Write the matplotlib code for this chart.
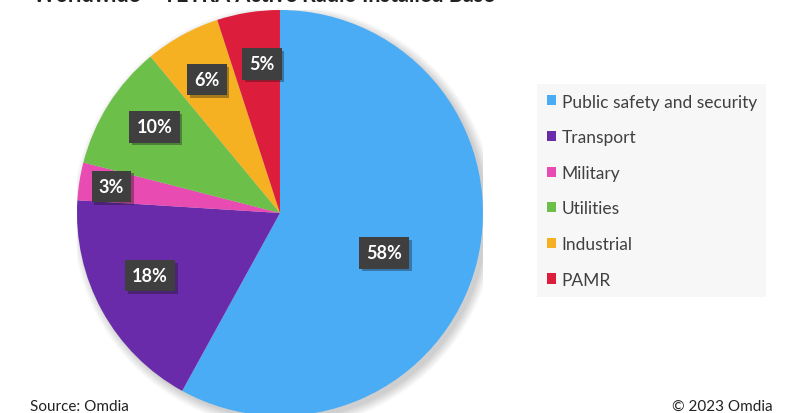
import matplotlib.pyplot as plt
import matplotlib.patheffects as pe
from matplotlib.patches import Circle
import numpy as np

plt.rcParams['font.family'] = ['Lato', 'DejaVu Sans']

segments = ['Public safety and security', 'Transport', 'Military',
            'Utilities', 'Industrial', 'PAMR']
shares = [58, 18, 3, 10, 6, 5]
colors = ['#4BACF6', '#6A2BAA', '#E84BB1', '#6CC04A', '#F5B122', '#DC1E3C']
# label placement: radius (fraction of pie) and small angle nudge (deg)
label_r = [0.55, 0.71, 0.84, 0.75, 0.75, 0.74]
label_da = [-6.5, -3, 0, -2, 0, -2]

fig = plt.figure(figsize=(7.88, 4.14), dpi=100)
ax = fig.add_axes([0.0977, -0.00725, 0.5152, 0.9807])

# soft drop shadow behind the pie
for k in range(8):
    ax.add_patch(Circle((0.02, -0.02), 1.0 + 0.006 * k, fc='black',
                        alpha=0.025, ec='none', zorder=0))

wedges, _ = ax.pie(shares, colors=colors, startangle=90, counterclock=False,
                   radius=1, wedgeprops=dict(linewidth=0, zorder=1))
ax.set_xlim(-1, 1)
ax.set_ylim(-1, 1)
ax.set_aspect('equal')

# percentage labels in dark boxes
for w, v, r, da in zip(wedges, shares, label_r, label_da):
    ang = np.deg2rad((w.theta1 + w.theta2) / 2 + da)
    t = ax.text(r * np.cos(ang), r * np.sin(ang), f'{v}%', ha='center',
                va='center', color='white', fontsize=13, fontweight='bold',
                bbox=dict(boxstyle='square,pad=0.4', fc='#3F3F3F', ec='none'),
                zorder=5)
    t.get_bbox_patch().set_path_effects([
        pe.SimplePatchShadow(offset=(2, -2), alpha=0.35), pe.Normal()])

leg = fig.legend(wedges, segments, loc='upper left',
                 bbox_to_anchor=(537 / 788, 1 - 85 / 414),
                 frameon=True, fancybox=False, fontsize=12.5,
                 handlelength=0.52, handleheight=0.52, handletextpad=0.35,
                 labelspacing=1.13, borderpad=0.55, borderaxespad=0,
                 labelcolor='#404040')
leg.get_frame().set_facecolor('#F6F6F6')
leg.get_frame().set_edgecolor('none')

# title is cropped by the top edge in the source image
fig.text(33 / 788, 1 - 1.5 / 414, 'Worldwide \u2013 TETRA Active Radio Installed Base',
         fontsize=15.5, fontweight='bold', color='#222222', va='baseline')
fig.text(30 / 788, 3 / 414, 'Source: Omdia', fontsize=11, color='#222222')
fig.text(672 / 788, 3 / 414, '\u00a9 2023 Omdia', fontsize=11, color='#222222')

fig.savefig('out.png', dpi=100)
